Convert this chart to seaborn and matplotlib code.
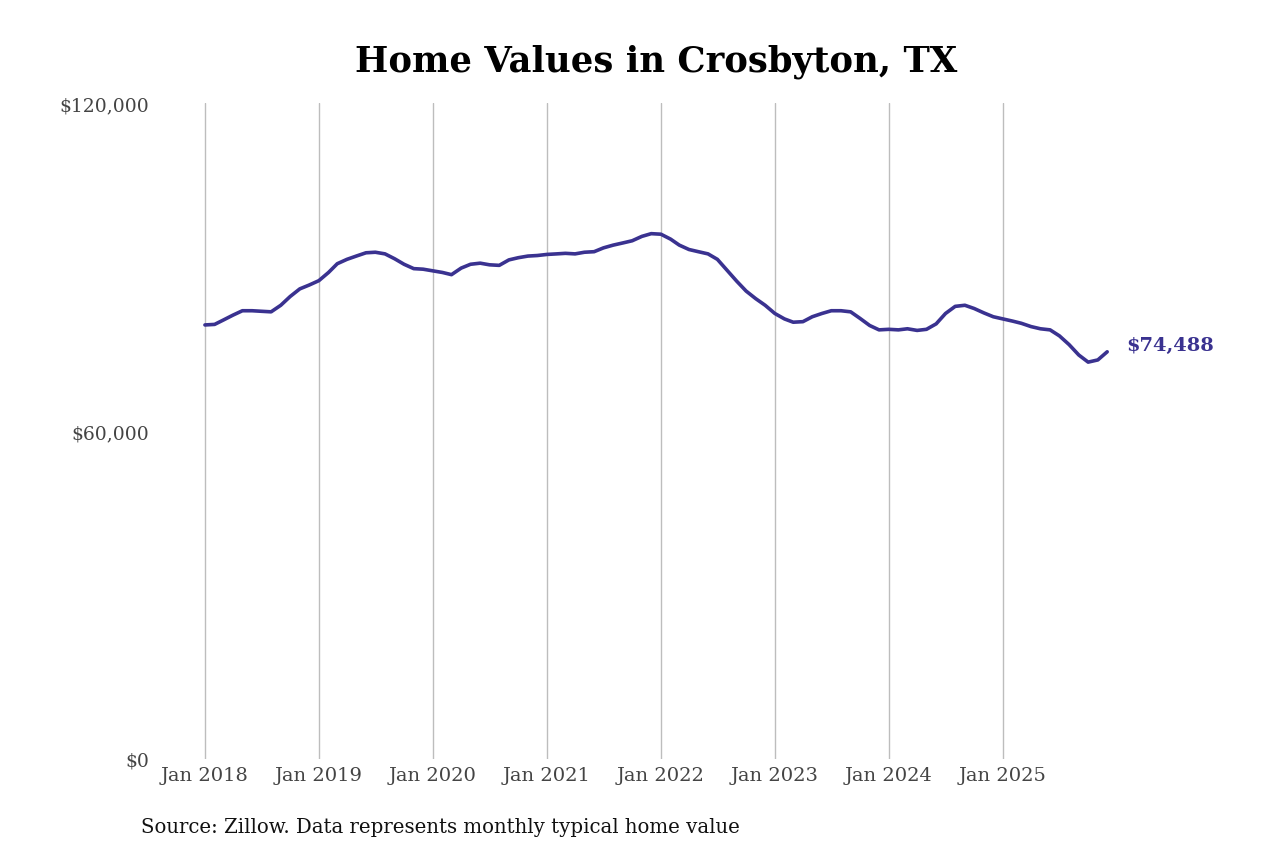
# home values line chart, Crosbyton TX
import numpy as np
import pandas as pd
import seaborn as sns
import matplotlib.pyplot as plt
from matplotlib.ticker import FuncFormatter

# monthly typical home value, Jan 2018 - Dec 2025 (thousands of $)
values_2018 = [79.4, 79.5, 80.3, 81.2, 82.0, 82.0, 81.9, 81.8, 83.0, 84.6, 86.0, 86.7]
values_2019 = [87.5, 89.0, 90.6, 91.4, 92.0, 92.6, 92.7, 92.4, 91.5, 90.5, 89.7, 89.6]
values_2020 = [89.3, 89.0, 88.6, 89.8, 90.5, 90.7, 90.4, 90.3, 91.3, 91.7, 92.0, 92.1]
values_2021 = [92.3, 92.4, 92.5, 92.4, 92.7, 92.8, 93.5, 94.0, 94.4, 94.8, 95.6, 96.1]
values_2022 = [96.0, 95.1, 94.0, 93.2, 92.8, 92.4, 91.4, 89.4, 87.4, 85.6, 84.2, 83.0]
values_2023 = [81.5, 80.5, 79.9, 80.0, 80.9, 81.5, 82.0, 82.0, 81.8, 80.6, 79.3, 78.5]
values_2024 = [78.6, 78.5, 78.7, 78.4, 78.6, 79.6, 81.5, 82.8, 83.0, 82.4, 81.6, 80.9]
values_2025 = [80.5, 80.1, 79.7, 79.1, 78.7, 78.5, 77.4, 75.8, 73.9, 72.6, 73.0, 74.488]

values = (values_2018 + values_2019 + values_2020 + values_2021 +
          values_2022 + values_2023 + values_2024 + values_2025)
dates = pd.date_range("2018-01-01", periods=len(values), freq="MS")
df = pd.DataFrame({"date": dates, "value": np.array(values) * 1000})

tick_years = list(range(2018, 2026))
line_color = "#3a3290"

sns.set_style("white")
plt.rcParams["font.family"] = ["DejaVu Serif"]

fig = plt.figure(figsize=(12.8, 8.53), dpi=100)
ax = fig.add_axes([160 / 1280, 93 / 853, 950 / 1280, 656 / 853])

sns.lineplot(data=df, x="date", y="value", ax=ax, color=line_color, linewidth=2.6)

ax.set_ylim(0, 120000)
ax.set_yticks([0, 60000, 120000])
ax.yaxis.set_major_formatter(FuncFormatter(lambda v, p: f"${v:,.0f}"))

ticks = [pd.Timestamp(f"{y}-01-01") for y in tick_years]
ax.set_xticks(ticks)
ax.set_xticklabels([f"Jan {y}" for y in tick_years])
ax.set_xlim(pd.Timestamp("2018-01-01") - pd.Timedelta(days=144),
            pd.Timestamp("2025-01-01") + pd.Timedelta(days=343))

ax.grid(axis="x", color="#bdbdbd", linewidth=1)
ax.grid(axis="y", visible=False)
sns.despine(ax=ax, left=True, bottom=True)
ax.tick_params(axis="both", length=0, labelcolor="#444444")
ax.tick_params(axis="x", pad=5, labelsize=14)
ax.tick_params(axis="y", pad=8, labelsize=13.5)
ax.set_xlabel("")
ax.set_ylabel("")

last = df.iloc[-1]
ax.annotate(f"${last['value']:,.0f}", xy=(last["date"], last["value"]),
            xytext=(14, 5), textcoords="offset points", va="center", ha="left",
            color=line_color, fontsize=14, fontweight="bold", annotation_clip=False)

fig.text(0.513, 0.928, "Home Values in Crosbyton, TX", ha="center", va="center",
         fontsize=25.5, fontweight="bold", color="black")
fig.text(141 / 1280, 1 - 828 / 853, "Source: Zillow. Data represents monthly typical home value",
         ha="left", va="center", fontsize=14.2, color="#111111")

fig.savefig("out.png", dpi=100)
